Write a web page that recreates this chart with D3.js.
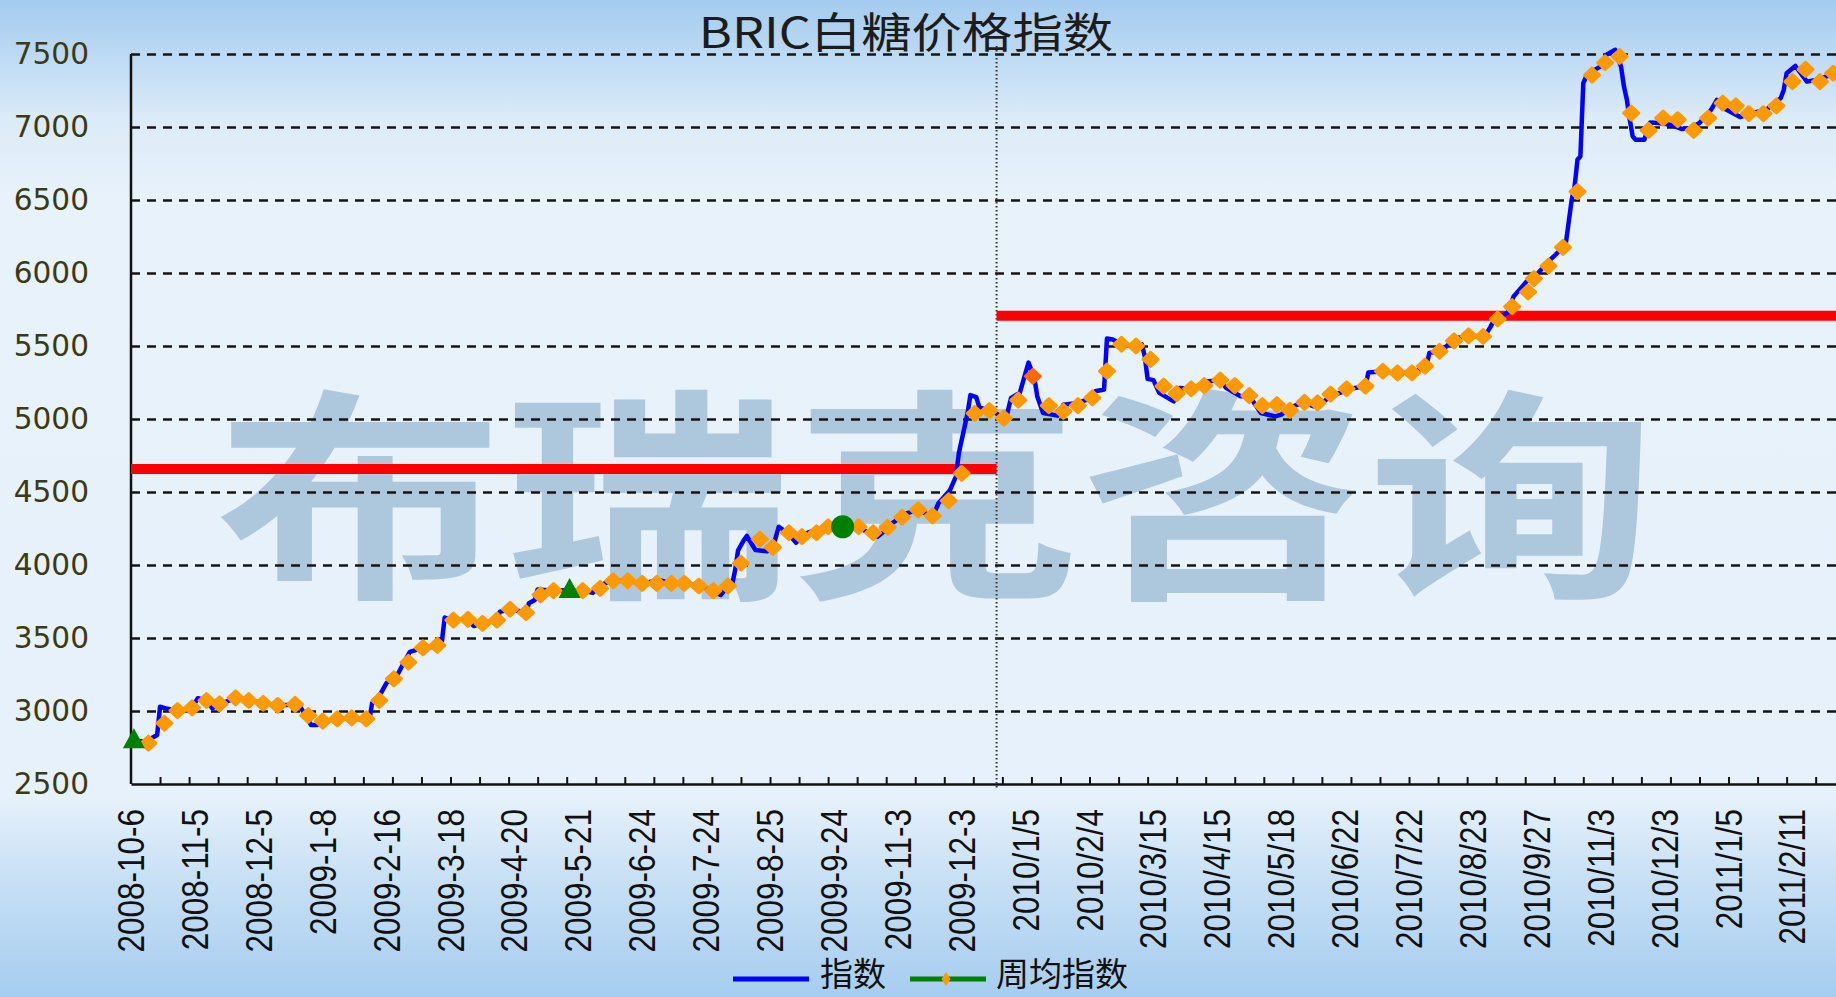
<!DOCTYPE html>
<html>
<head>
<meta charset="utf-8">
<script src="https://cdn.jsdelivr.net/npm/d3@7"></script>
<style>
  body { margin: 0; overflow: hidden; }
</style>
</head>
<body>
<svg id="chart"></svg>
<script>
// x 轴日期标签及其所在的交易日序号
const dateLabels = ["2008-10-6", "2008-11-5", "2008-12-5", "2009-1-8", "2009-2-16", "2009-3-18", "2009-4-20",
  "2009-5-21", "2009-6-24", "2009-7-24", "2009-8-25", "2009-9-24", "2009-11-3", "2009-12-3",
  "2010/1/5", "2010/2/4", "2010/3/15", "2010/4/15", "2010/5/18", "2010/6/22", "2010/7/22",
  "2010/8/23", "2010/9/27", "2010/11/3", "2010/12/3", "2011/1/5", "2011/2/11"];
const labelIdx = [0, 22, 44, 66, 88, 110, 132, 154, 176, 198, 220, 242, 264, 286,
  308, 330, 352, 374, 396, 418, 440, 462, 484, 506, 528, 550, 572];
const yTicks = [2500, 3000, 3500, 4000, 4500, 5000, 5500, 6000, 6500, 7000, 7500];

// 指数（日）: [交易日序号, 数值]
const daily = [
  [0, 2800], [5, 2790], [9, 2836], [10, 3029], [12, 3018], [16, 3003], [21, 3022], [23, 3087], [26, 3072],
  [28, 3018], [31, 3049], [36, 3090], [41, 3072], [46, 3053], [51, 3038], [56, 3045], [58, 3038], [62, 2904],
  [64, 2904], [66, 2930], [71, 2946], [76, 2953], [78, 2946], [82, 2930], [83, 3053], [86, 3121], [88, 3193],
  [91, 3220], [93, 3296], [96, 3405], [100, 3429], [106, 3445], [107, 3470], [108, 3640], [111, 3623],
  [116, 3628], [118, 3582], [121, 3600], [126, 3623], [127, 3680], [131, 3697], [136, 3673], [137, 3738],
  [139, 3760], [140, 3833], [146, 3824], [151, 3829], [156, 3824], [159, 3810], [163, 3874], [166, 3892],
  [171, 3892], [176, 3874], [182, 3897], [186, 3874], [191, 3874], [196, 3856], [200, 3824], [203, 3795],
  [206, 3865], [207, 3870], [208, 3966], [209, 4100], [211, 4171], [212, 4199], [215, 4103], [219, 4094],
  [221, 4121], [223, 4262], [226, 4221], [229, 4153], [231, 4194], [233, 4221], [236, 4240], [240, 4262],
  [245, 4262], [250, 4262], [254, 4221], [257, 4194], [261, 4258], [262, 4285], [265, 4327], [267, 4353],
  [271, 4377], [276, 4331], [278, 4423], [282, 4514], [284, 4605], [285, 4765], [288, 5039], [289, 5164],
  [291, 5150], [292, 5084], [295, 5057], [298, 5039], [301, 4984], [303, 5145], [306, 5179], [308, 5317],
  [309, 5386], [311, 5282], [312, 5156], [314, 5041], [319, 5023], [321, 5098], [326, 5110], [331, 5145],
  [332, 5190], [335, 5202], [336, 5551], [338, 5545], [341, 5512], [346, 5500], [348, 5512], [349, 5431],
  [350, 5275], [352, 5266], [354, 5179], [359, 5121], [361, 5213], [365, 5207], [371, 5259], [375, 5266],
  [377, 5213], [382, 5156], [385, 5160], [389, 5041], [394, 5018], [396, 5030], [400, 5087], [404, 5114],
  [407, 5087], [410, 5110], [413, 5156], [420, 5207], [425, 5225], [426, 5318], [431, 5327], [436, 5316],
  [441, 5316], [446, 5362], [447, 5453], [451, 5464], [456, 5553], [461, 5570], [466, 5565], [468, 5629],
  [469, 5667], [470, 5685], [474, 5729], [476, 5839], [477, 5862], [481, 5953], [484, 5990], [488, 6079],
  [491, 6136], [494, 6205], [495, 6353], [496, 6501], [497, 6593], [498, 6776], [499, 6800], [500, 7300],
  [501, 7346], [503, 7381], [506, 7415], [508, 7495], [511, 7529], [513, 7413], [514, 7277], [515, 7186],
  [516, 7050], [517, 6936], [518, 6913], [521, 6913], [523, 7031], [526, 7027], [530, 7016], [534, 6986],
  [537, 6993], [540, 7027], [544, 7118], [546, 7186], [549, 7122], [554, 7068], [558, 7095], [563, 7118],
  [568, 7198], [569, 7254], [570, 7368], [573, 7418], [577, 7311], [580, 7322], [587, 7368]
];

// 周均指数: [交易日序号, 数值]
const weekly = [
  [1, 2800], [6, 2780], [11.5, 2916], [16, 3003], [21, 3022], [26, 3072], [30.5, 3049], [36, 3090],
  [40.5, 3072], [45.5, 3053], [50.5, 3038], [56.5, 3045], [61, 2969], [66, 2930], [71, 2946], [76, 2953],
  [81, 2946], [85.5, 3072], [90.5, 3220], [95.5, 3334], [100.5, 3433], [105.5, 3449], [111, 3623],
  [116, 3628], [121, 3600], [126, 3623], [130.5, 3697], [136, 3673], [141, 3795], [145.5, 3824],
  [151, 3829], [155.5, 3824], [161.5, 3840], [166, 3892], [171, 3892], [176, 3874], [181, 3874],
  [186, 3874], [190.5, 3874], [195.5, 3856], [200.5, 3824], [205.5, 3856], [210, 4012], [216.5, 4176],
  [221, 4121], [226.5, 4221], [231, 4194], [236, 4221], [240, 4262], [245, 4262], [250.5, 4262],
  [255.5, 4221], [260.5, 4258], [265.5, 4327], [271, 4377], [276, 4336], [281.5, 4440], [286, 4627],
  [290.5, 5039], [295.5, 5057], [300.5, 5006], [305.5, 5129], [310.5, 5293], [316, 5092], [321, 5052],
  [326, 5092], [331, 5145], [336, 5328], [341, 5512], [346, 5500], [351, 5408], [355.5, 5225], [360, 5174],
  [365, 5207], [369.5, 5229], [375, 5266], [380, 5229], [385, 5160], [389.5, 5092], [394.5, 5098],
  [399, 5059], [404, 5114], [408.5, 5110], [413, 5170], [418.5, 5207], [425, 5225], [431, 5327],
  [436, 5316], [441, 5316], [445.5, 5362], [450.5, 5464], [455.5, 5535], [460.5, 5570], [465.5, 5565],
  [470.5, 5685], [475.5, 5770], [481, 5870], [483, 5962], [488, 6048], [493, 6175], [498, 6557],
  [503, 7355], [507.5, 7440], [512.5, 7483], [516.5, 7095], [522.5, 6977], [527.5, 7061], [532.5, 7050],
  [538, 6977], [543, 7061], [548, 7164], [552.5, 7145], [557, 7091], [562, 7091], [566.5, 7145],
  [572, 7311], [576.5, 7395], [581.5, 7311], [586, 7368]
];
// 周均指数中特殊标记的位置（weekly 数组下标）
const weeklyTri = [0, 30];
const weeklyDot = [49];
const weeklyHi = [62];

// 年度均值及分界
const yearAvg = [4657, 5708];
const yearSplit = 298;
const lastIdx = 587;

const width = 1836;
const height = 997;

const svg = d3.select('#chart')
  .attr('width', width)
  .attr('height', height);

// 背景渐变
const grad = svg.append('defs').append('linearGradient')
  .attr('id', 'bg').attr('x1', 0).attr('y1', 0).attr('x2', 0).attr('y2', 1);
[[0, '#a3cbef'], [0.12, '#dcebf8'], [0.2, '#e8f2fb'], [0.8, '#e6f1fb'], [0.88, '#c8e0f5'], [1, '#a6cdef']]
  .forEach(s => grad.append('stop').attr('offset', s[0]).attr('stop-color', s[1]));

svg.append('rect')
  .attr('width', width)
  .attr('height', height)
  .attr('fill', 'url(#bg)');

const x = d3.scaleLinear().domain([0, lastIdx]).range([131, 1836]);
const y = d3.scaleLinear().domain([2500, 7500]).range([784, 54]);

// 水印
svg.append('text')
  .attr('transform', 'translate(936,581) scale(1.28,1)')
  .attr('text-anchor', 'middle')
  .attr('font-family', '"Noto Sans CJK SC"')
  .attr('font-weight', 700)
  .attr('font-size', 225)
  .attr('fill', '#adc7dd')
  .text('布瑞克咨询');

// y 轴及网格线
svg.append('g')
  .attr('transform', 'translate(131,0)')
  .call(d3.axisLeft(y).tickValues(yTicks).tickSize(-(width - 131)).tickPadding(42).tickFormat(d3.format('d')))
  .call(g => g.select('.domain').remove())
  .call(g => g.selectAll('.tick line')
    .attr('stroke', '#151515')
    .attr('stroke-width', 2.5)
    .attr('stroke-dasharray', '9,7')
    .filter(d => d === 2500).remove())
  .call(g => g.selectAll('.tick text')
    .attr('font-family', '"DejaVu Sans"')
    .attr('font-size', 29.6)
    .attr('fill', '#3a3a14'));

svg.append('line')
  .attr('x1', 131).attr('x2', 131)
  .attr('y1', y(7500)).attr('y2', y(2500))
  .attr('stroke', '#111')
  .attr('stroke-width', 2.5);

// x 轴及刻度
svg.append('g')
  .attr('transform', `translate(0,${y(2500)})`)
  .call(d3.axisBottom(x).tickValues(d3.range(10, lastIdx, 10)).tickSizeInner(-7).tickSizeOuter(0).tickFormat(''))
  .call(g => g.select('.domain').attr('stroke', '#111').attr('stroke-width', 2.5))
  .call(g => g.selectAll('.tick line').attr('stroke', '#111').attr('stroke-width', 2));

svg.append('g')
  .selectAll('text')
  .data(dateLabels)
  .join('text')
  .attr('transform', (d, i) => `translate(${x(labelIdx[i])},809) rotate(-90) scale(1,1.18)`)
  .attr('text-anchor', 'end')
  .attr('dy', '0.35em')
  .attr('font-family', '"Liberation Sans", Arial')
  .attr('font-size', 31.5)
  .attr('fill', '#111')
  .text(d => d);

// 年份分界虚线
svg.append('line')
  .attr('x1', x(yearSplit)).attr('x2', x(yearSplit))
  .attr('y1', 46).attr('y2', 790)
  .attr('stroke', '#333')
  .attr('stroke-width', 2)
  .attr('stroke-dasharray', '1.5,2.5');

// 年度均值红线
svg.append('g')
  .selectAll('line')
  .data(yearAvg)
  .join('line')
  .attr('x1', (d, i) => i === 0 ? x(0) : x(yearSplit))
  .attr('x2', (d, i) => i === 0 ? x(yearSplit) : x(lastIdx))
  .attr('y1', d => y(d))
  .attr('y2', d => y(d))
  .attr('stroke', '#ff0000')
  .attr('stroke-width', 10);

// 指数
const line = d3.line().x(d => x(d[0])).y(d => y(d[1]));
svg.append('path')
  .attr('d', line(daily))
  .attr('fill', 'none')
  .attr('stroke', '#0000ff')
  .attr('stroke-width', 4.5)
  .attr('stroke-linejoin', 'round');

// 周均指数标记
const diamond = 'M0,-7 L7.5,0 L0,7 L-7.5,0 Z';
const special = new Set([...weeklyTri, ...weeklyDot]);
const isHi = d => weeklyHi.some(k => weekly[k] === d);
svg.append('g')
  .selectAll('path')
  .data(weekly.filter((d, i) => !special.has(i)))
  .join('path')
  .attr('transform', d => `translate(${x(d[0])},${y(d[1])})`)
  .attr('d', diamond)
  .attr('fill', d => isHi(d) ? '#ff6a00' : '#ff9900')
  .attr('stroke', d => isHi(d) ? '#ff6a00' : '#ff9900')
  .attr('stroke-width', 3)
  .attr('stroke-linejoin', 'round');

svg.append('g')
  .selectAll('path')
  .data(weeklyTri.map(k => weekly[k]))
  .join('path')
  .attr('transform', d => `translate(${x(d[0])},${y(d[1])})`)
  .attr('d', 'M0,-12 L11,8 L-11,8 Z')
  .attr('fill', '#008000');

svg.append('g')
  .selectAll('circle')
  .data(weeklyDot.map(k => weekly[k]))
  .join('circle')
  .attr('cx', d => x(d[0]))
  .attr('cy', d => y(d[1]))
  .attr('r', 11.5)
  .attr('fill', '#008000');

// 标题
svg.append('text')
  .attr('transform', 'translate(906,48) scale(1.2,1)')
  .attr('text-anchor', 'middle')
  .attr('font-family', '"Noto Sans CJK SC"')
  .attr('font-size', 42)
  .attr('fill', '#1c1c1c')
  .text('BRIC白糖价格指数');

// 图例（底部贴边，稍上移使文字完整）
const legend = svg.append('g');
legend.append('line')
  .attr('x1', 733).attr('x2', 809).attr('y1', 979).attr('y2', 979)
  .attr('stroke', '#0000ff').attr('stroke-width', 5);
legend.append('text')
  .attr('x', 820).attr('y', 986)
  .attr('font-family', '"Noto Sans CJK SC"')
  .attr('font-size', 33)
  .attr('fill', '#111')
  .text('指数');
legend.append('line')
  .attr('x1', 910).attr('x2', 986).attr('y1', 979).attr('y2', 979)
  .attr('stroke', '#008000').attr('stroke-width', 5);
legend.append('path')
  .attr('transform', 'translate(946,979)')
  .attr('d', 'M0,-7 L4.5,0 L0,7 L-4.5,0 Z')
  .attr('fill', '#ff9900');
legend.append('text')
  .attr('x', 996).attr('y', 986)
  .attr('font-family', '"Noto Sans CJK SC"')
  .attr('font-size', 33)
  .attr('fill', '#111')
  .text('周均指数');
</script>
</body>
</html>
